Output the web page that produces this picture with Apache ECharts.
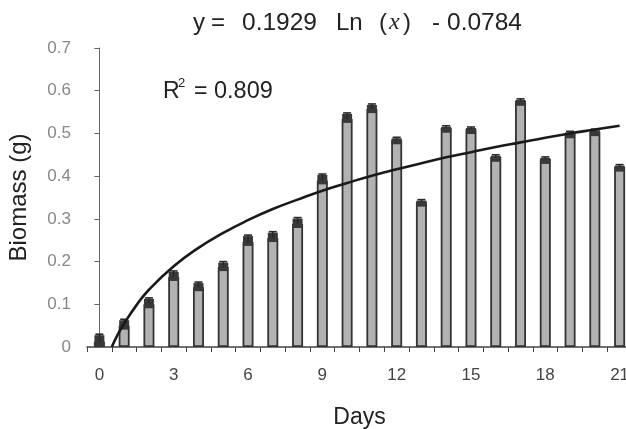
<!DOCTYPE html>
<html>
<head>
<meta charset="utf-8">
<script src="https://cdn.jsdelivr.net/npm/echarts@6/dist/echarts.min.js"></script>
<style>
  html, body { margin: 0; padding: 0; background: #fff; }
  #chart { width: 626px; height: 429px; }
</style>
</head>
<body>
<div id="chart"></div>
<script>
const days = ['0','1','2','3','4','5','6','7','8','9','10','11','12','13','14','15','16','17','18','19','20','21'];
const biomass = [0.012, 0.05, 0.10, 0.164, 0.14, 0.187, 0.246, 0.255, 0.288, 0.39, 0.534, 0.557,
                 0.485, 0.34, 0.513, 0.51, 0.445, 0.576, 0.44, 0.50, 0.504, 0.422];
const errors = [0.018, 0.015, 0.015, 0.014, 0.012, 0.013, 0.016, 0.015, 0.015, 0.015, 0.014, 0.012,
                0.006, 0.005, 0.005, 0.005, 0.005, 0.005, 0.005, 0.005, 0.006, 0.005];
// trend line: [day, biomass]
const trend = [[0.5, 0], [0.75, 0.03], [1, 0.055], [1.5, 0.098], [2, 0.134], [3, 0.189], [4, 0.232],
               [5, 0.267], [6, 0.297], [7, 0.323], [8, 0.345], [9, 0.366], [10, 0.384], [11, 0.401],
               [12, 0.416], [13, 0.43], [14, 0.444], [15, 0.456], [16, 0.468], [17, 0.479],
               [18, 0.49], [19, 0.5], [20, 0.509], [21, 0.518]];
const yTicks = ['0', '0.1', '0.2', '0.3', '0.4', '0.5', '0.6', '0.7'];

const font = 'Arial, "Liberation Sans", sans-serif';
const chart = echarts.init(document.getElementById('chart'), null, { renderer: 'canvas' });
const errData = biomass.map((v, i) => [i, v, v + errors[i]]);

function label(text, x, y, size, extra) {
  return { type: 'text', x, y, style: Object.assign({ text, fill: '#222', font: size + 'px ' + font }, extra || {}) };
}

chart.setOption({
  animation: false,
  grid: { left: 87, right: -6, top: 48, bottom: 82, outerBoundsMode: 'none' },
  graphic: [
    label('y', 193, 11, 24),
    label('=', 211, 11, 24),
    label('0.1929', 242, 11, 24.5),
    label('Ln', 336, 11, 24),
    label('(', 379, 11, 24),
    { type: 'text', x: 389, y: 11, style: { text: 'x', fill: '#222', font: 'italic 24px "Liberation Serif", serif' } },
    label(')', 403, 11, 24),
    label('-', 432, 11, 24),
    label('0.0784', 447, 11, 24.5),
    label('R', 163, 80, 23),
    label('2', 178, 77, 13),
    label('=', 194, 80, 23),
    label('0.809', 214, 80, 23.5)
  ],
  xAxis: [{
    type: 'category',
    data: days,
    boundaryGap: true,
    name: 'Days',
    nameLocation: 'middle',
    nameGap: 59,
    nameTextStyle: { color: '#222', fontSize: 23, fontFamily: font },
    axisLine: { lineStyle: { color: '#444', width: 1.5 } },
    axisTick: { show: true, interval: 0, length: 5, inside: false, lineStyle: { color: '#444' } },
    axisLabel: { interval: 2, color: '#444', fontSize: 17, margin: 20, fontFamily: font },
    splitLine: { show: false }
  }, {
    type: 'value',
    min: -0.5,
    max: 21.5,
    show: false
  }],
  yAxis: {
    type: 'value',
    min: 0,
    max: 0.7,
    interval: 0.1,
    name: 'Biomass (g)',
    nameLocation: 'middle',
    nameGap: 56,
    nameTextStyle: { color: '#222', fontSize: 24, fontFamily: font },
    axisLine: { show: true, lineStyle: { color: '#666', width: 1 } },
    axisTick: { show: true, length: 5, lineStyle: { color: '#666' } },
    axisLabel: { color: '#888', fontSize: 17, margin: 16, fontFamily: font, formatter: (v) => yTicks[Math.round(v * 10)] },
    splitLine: { show: false }
  },
  series: [{
    type: 'bar',
    data: biomass,
    barWidth: 11,
    itemStyle: { color: '#b2b2b2', borderColor: '#333', borderWidth: 1.8 }
  }, {
    type: 'custom',
    data: errData,
    renderItem: (params, api) => {
      const x = api.value(0);
      const lo = api.coord([x, api.value(1)]);
      const hi = api.coord([x, api.value(2)]);
      const style = { stroke: '#2a2a2a', lineWidth: 1.6 };
      return {
        type: 'group',
        children: [
          { type: 'rect', shape: { x: lo[0] - 5, y: Math.min(hi[1] + 1, lo[1] - 1), width: 10, height: Math.max(3, lo[1] - hi[1]) + 3 }, style: { fill: '#383838' } },
          { type: 'line', shape: { x1: lo[0], y1: lo[1], x2: hi[0], y2: hi[1] }, style },
          { type: 'line', shape: { x1: hi[0] - 4, y1: hi[1], x2: hi[0] + 4, y2: hi[1] }, style }
        ]
      };
    },
    z: 3
  }, {
    type: 'line',
    xAxisIndex: 1,
    data: trend,
    smooth: true,
    symbol: 'none',
    lineStyle: { color: '#1a1a1a', width: 2.6 },
    z: 4
  }]
});
</script>
</body>
</html>
